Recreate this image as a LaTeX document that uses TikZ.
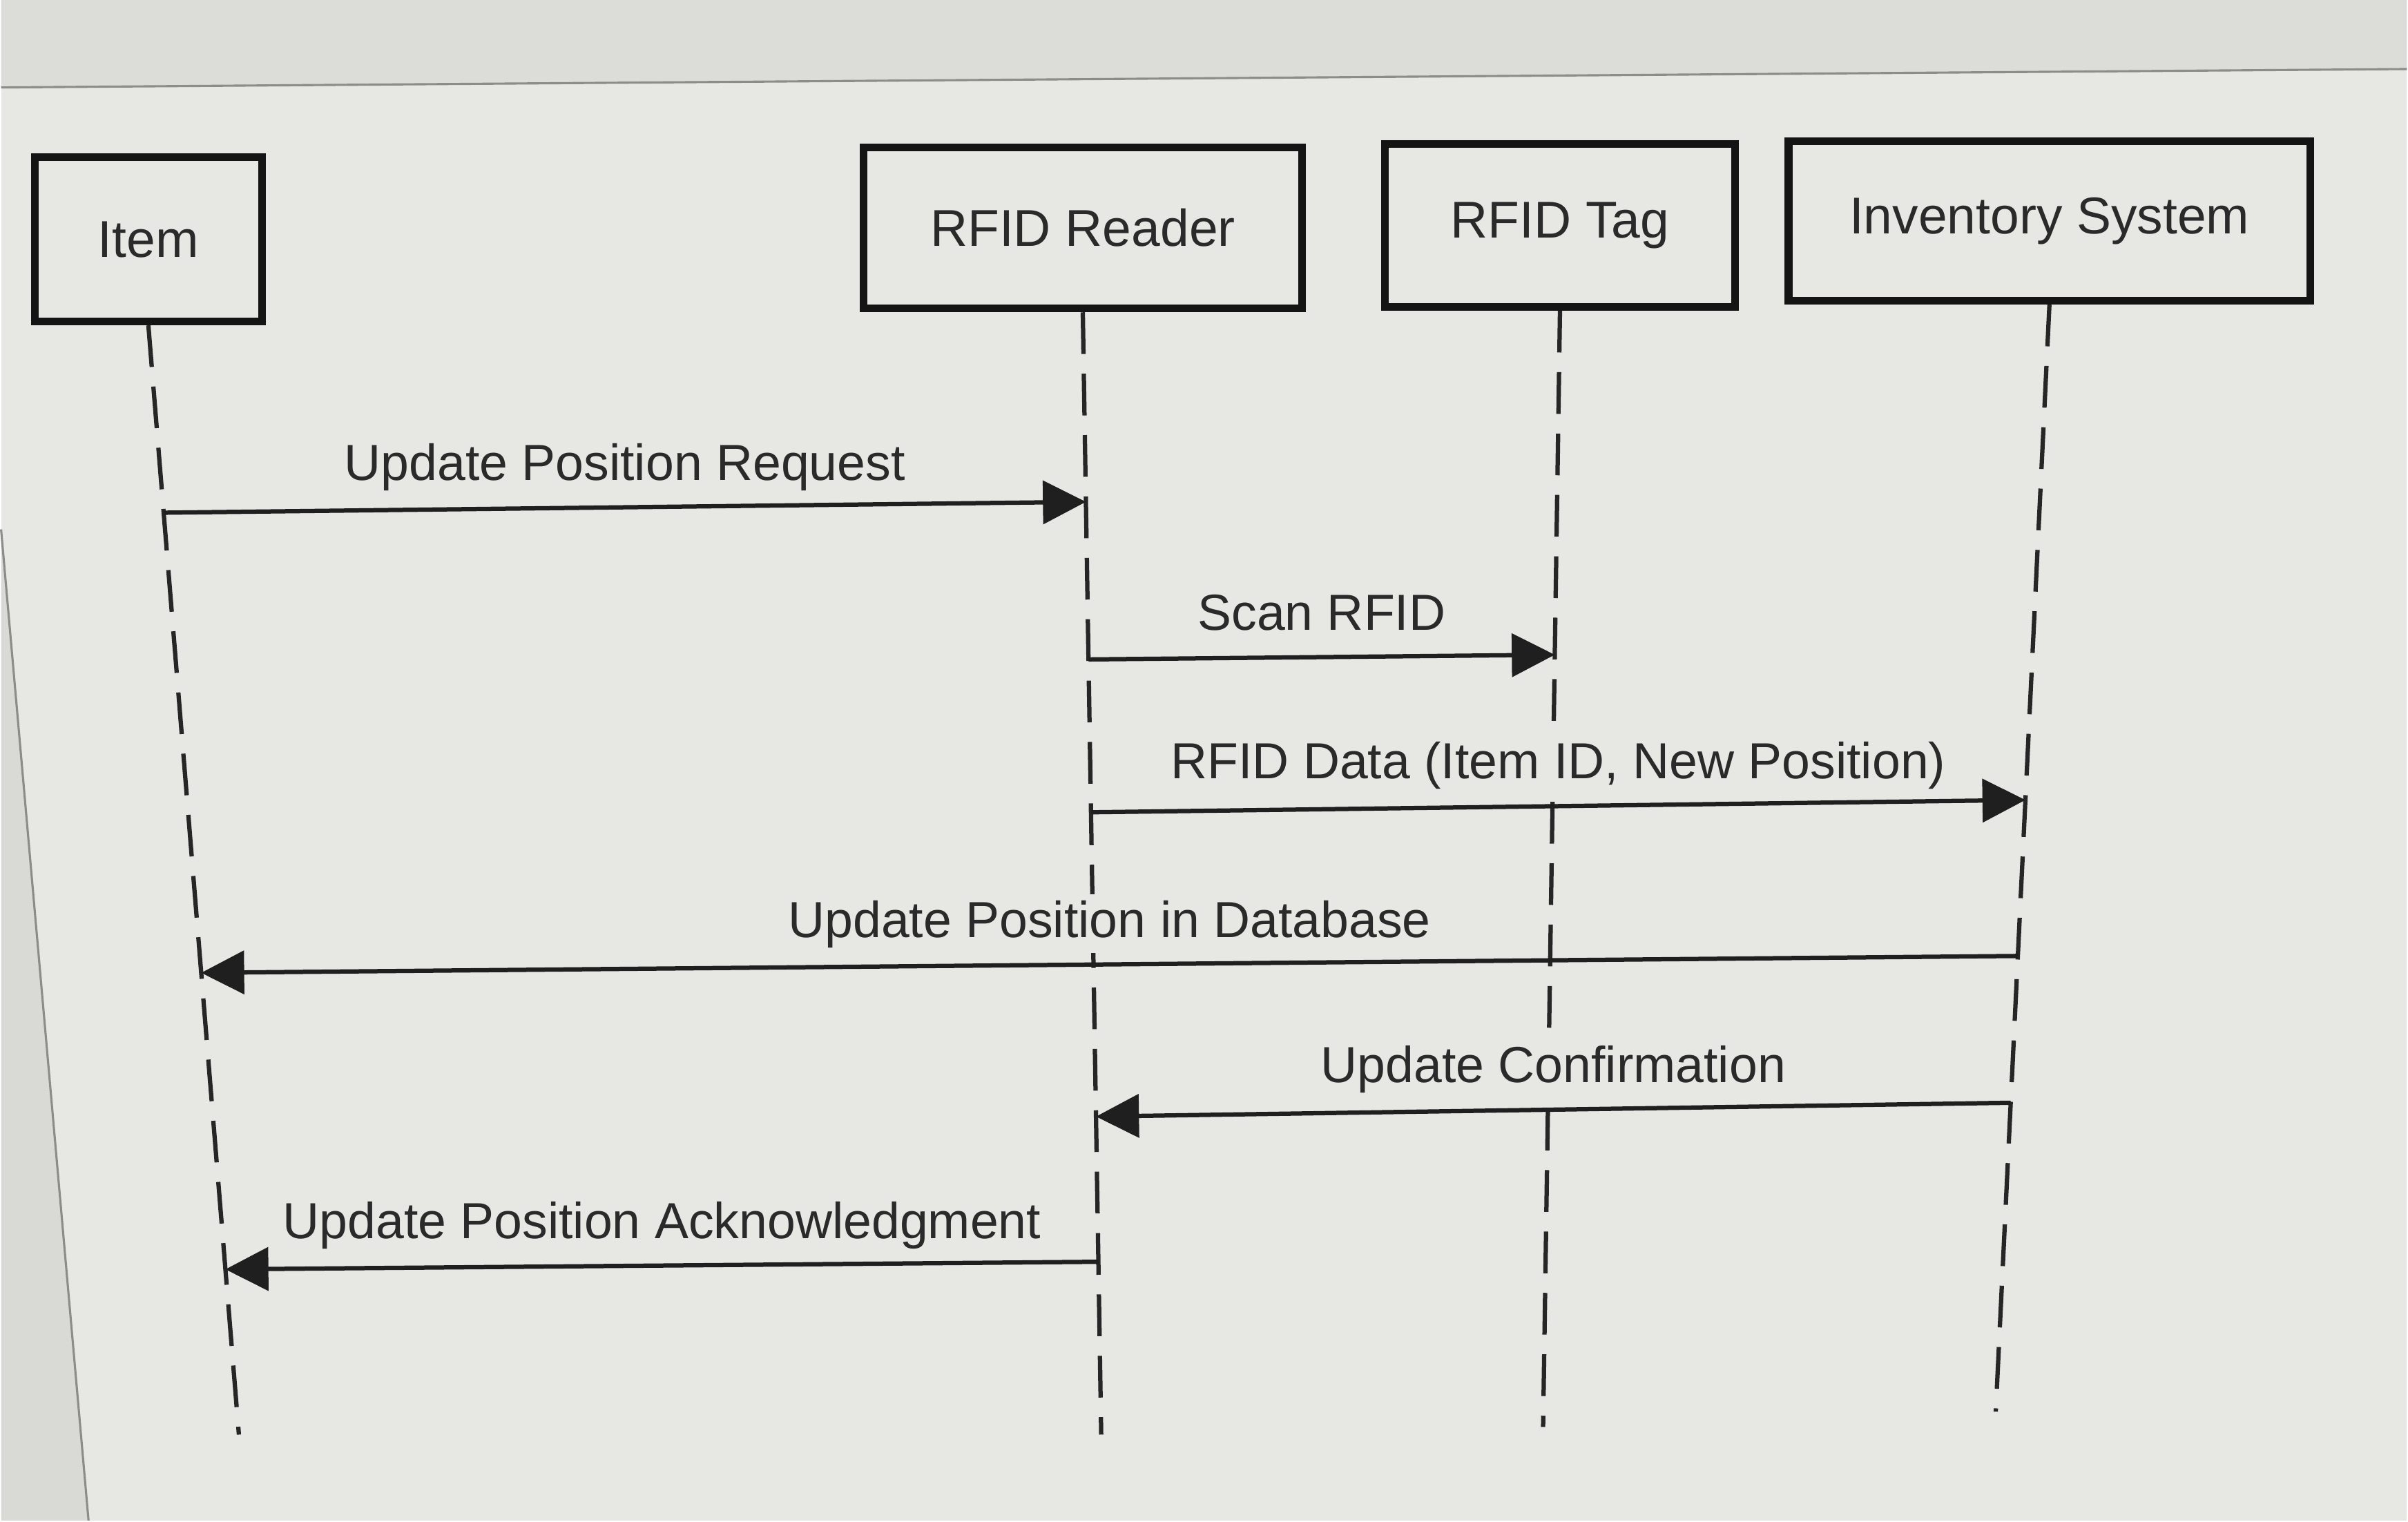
\documentclass[tikz,border=0pt]{standalone}
\usepackage{fontspec}
\setmainfont{Liberation Sans}
\usetikzlibrary{arrows.meta,calc}
\definecolor{bgmain}{HTML}{E7E7E4}
\definecolor{bgtop}{HTML}{DCDCD9}
\definecolor{bgleft}{HTML}{D9D9D6}
\definecolor{edge}{HTML}{8C8C88}
\definecolor{txt}{HTML}{2A2A2A}
\tikzset{
  actor/.style={draw=black!92, line width=3.6pt, inner sep=0pt, text=txt,
    font=\fontsize{24}{28}\selectfont},
  lifeline/.style={draw=black!85, line width=2pt, dash pattern=on 0.68cm off 0.32cm},
  msg/.style={draw=black!88, line width=2pt, -{Triangle[length=0.7cm,width=0.7cm]}},
  lbl/.style={text=txt, fill=bgmain, font=\fontsize{23.5}{28}\selectfont,
    inner xsep=0.1cm, inner ysep=0.08cm,
    text height=17.6pt, text depth=5.2pt, anchor=south},
  screenedge/.style={draw=edge, line width=1pt}
}
\begin{document}
\begin{tikzpicture}[x=0.025cm,y=-0.025cm]
% background (photo of a screen)
\fill[bgmain] (0,0) rectangle (1568,991);
\fill[bgtop] (0,0) -- (1568,0) -- (1568,45) -- (0,57) -- cycle;
\fill[bgleft] (0,345) -- (57,991) -- (0,991) -- cycle;
\draw[screenedge] (0,57) -- (1568,45);
\draw[screenedge] (0,345) -- (57,991);
\useasboundingbox (0,0) rectangle (1568,991);

% participants
\node[actor, minimum width=3.7cm, minimum height=2.675cm] (item) at (96,156) {Item};
\node[actor, minimum width=7.15cm, minimum height=2.625cm] (reader) at (705,148.5) {RFID Reader};
\node[actor, minimum width=5.7cm, minimum height=2.65cm] (tag) at (1016,147) {RFID Tag};
\node[actor, minimum width=8.5cm, minimum height=2.6cm] (inv) at (1335,144) {Inventory System};

% lifeline ends
\coordinate (itemE) at (155,935);
\coordinate (readerE) at (717,935);
\coordinate (tagE) at (1005,930);
\coordinate (invE) at (1300,920);

\draw[lifeline] (item.south) -- (itemE);
\draw[lifeline] (reader.south) -- (readerE);
\draw[lifeline] (tag.south) -- (tagE);
\draw[lifeline] (inv.south) -- (invE);

% message end points on the lifelines
\coordinate (i1) at ($(item.south)!0.1689!(itemE)$);
\coordinate (i4) at ($(item.south)!0.5837!(itemE)$);
\coordinate (i6) at ($(item.south)!0.851!(itemE)$);
\coordinate (r1) at ($(reader.south)!0.1689!(readerE)$);
\coordinate (r2) at ($(reader.south)!0.3093!(readerE)$);
\coordinate (r3) at ($(reader.south)!0.4455!(readerE)$);
\coordinate (r5) at ($(reader.south)!0.7166!(readerE)$);
\coordinate (r6) at ($(reader.south)!0.846!(readerE)$);
\coordinate (t2) at ($(tag.south)!0.3082!(tagE)$);
\coordinate (v3) at ($(inv.south)!0.4475!(invE)$);
\coordinate (v4) at ($(inv.south)!0.5884!(invE)$);
\coordinate (v5) at ($(inv.south)!0.721!(invE)$);

% labels (opaque, masking the lifelines)
\node[lbl] (l1) at ($($(i1)!0.5!(r1)$)+(0,-7)$) {Update Position Request};
\node[lbl] (l2) at ($($(r2)!0.5!(t2)$)+(0,-7)$) {Scan RFID};
\node[lbl] (l3) at ($($(r3)!0.5!(v3)$)+(0,-7)$) {RFID Data (Item ID, New Position)};
\node[lbl] (l4) at ($($(v4)!0.5!(i4)$)+(0,-7)$) {Update Position in Database};
\node[lbl] (l5) at ($($(v5)!0.5!(r5)$)+(0,-7)$) {Update Confirmation};
\node[lbl] (l6) at ($($(r6)!0.5!(i6)$)+(0,-7)$) {Update Position Acknowledgment};

% messages
\draw[msg] (i1) -- (r1);
\draw[msg] (r2) -- (t2);
\draw[msg] (r3) -- (v3);
\draw[msg] (v4) -- (i4);
\draw[msg] (v5) -- (r5);
\draw[msg] (r6) -- (i6);
\end{tikzpicture}
\end{document}
